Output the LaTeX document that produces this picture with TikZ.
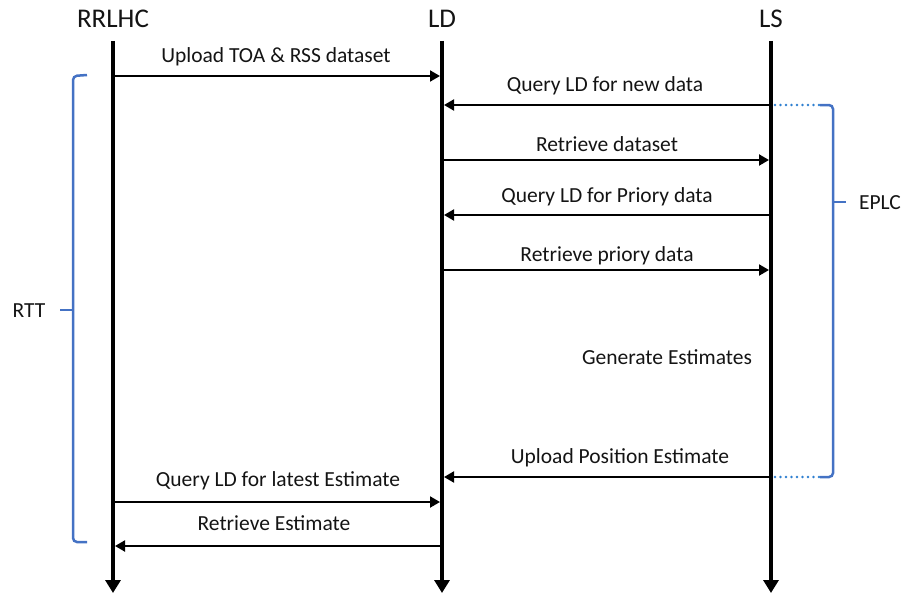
\documentclass[tikz,border=0pt]{standalone}
\usepackage{fontspec}
\setmainfont{Carlito}
\usetikzlibrary{arrows.meta}
\definecolor{braceblue}{HTML}{4472C4}
\definecolor{dotblue}{HTML}{2E7FD0}
\definecolor{txt}{HTML}{141414}
\begin{document}
\begin{tikzpicture}[x=1pt,y=-1pt,
  life/.style={line width=4pt,-{Triangle[width=15pt,length=13pt]}},
  msg/.style={line width=2pt,shorten >=2pt,-{Triangle[width=11pt,length=10pt]}},
  lbl/.style={font=\fontsize{21.5}{25}\selectfont, text=txt, inner sep=0pt, anchor=base},
  head/.style={font=\fontsize{27}{31}\selectfont, text=txt, inner sep=0pt, anchor=base},
  bracket/.style={draw=braceblue, line width=2.5pt, rounded corners=4pt},
  dotline/.style={draw=dotblue, line width=2.6pt, line cap=round, dash pattern=on 0pt off 5.5pt}]
\useasboundingbox (0,0) rectangle (909,594);

% headers
\node[head] (hA) at (113,28) {RRLHC};
\node[head] (hB) at (442,28) {LD};
\node[head] (hC) at (771,28) {LS};

% lifelines
\coordinate (aT) at (113,41); \coordinate (aB) at (113,593);
\coordinate (bT) at (442,41); \coordinate (bB) at (442,593);
\coordinate (cT) at (771,41); \coordinate (cB) at (771,593);
\draw[life] (aT) -- (aB);
\draw[life] (bT) -- (bB);
\draw[life] (cT) -- (cB);

% message rows
\coordinate (m1) at (0,76);
\coordinate (m2) at (0,105);
\coordinate (m3) at (0,160);
\coordinate (m4) at (0,215);
\coordinate (m5) at (0,270);
\coordinate (m7) at (0,477);
\coordinate (m8) at (0,502);
\coordinate (m9) at (0,546);

\draw[msg] (aT |- m1) -- (bT |- m1);
\draw[msg] (cT |- m2) -- (bT |- m2);
\draw[msg] (bT |- m3) -- (cT |- m3);
\draw[msg] (cT |- m4) -- (bT |- m4);
\draw[msg] (bT |- m5) -- (cT |- m5);
\draw[msg] (cT |- m7) -- (bT |- m7);
\draw[msg] (aT |- m8) -- (bT |- m8);
\draw[msg] (bT |- m9) -- (aT |- m9);

% labels
\node[lbl] (l1) at (276,63) {Upload TOA \& RSS dataset};
\node[lbl] (l2) at (605,91) {Query LD for new data};
\node[lbl] (l3) at (607,151) {Retrieve dataset};
\node[lbl] (l4) at (607,202) {Query LD for Priory data};
\node[lbl] (l5) at (607,261) {Retrieve priory data};
\node[lbl] (l6) at (667,364) {Generate Estimates};
\node[lbl] (l7) at (620,463) {Upload Position Estimate};
\node[lbl] (l8) at (278,486) {Query LD for latest Estimate};
\node[lbl] (l9) at (274,530) {Retrieve Estimate};

% RTT bracket
\coordinate (r1) at (87,75);
\coordinate (r2) at (73,76);
\coordinate (r3) at (73,542);
\coordinate (r4) at (87,542);
\coordinate (rm) at (73,310);
\coordinate (rt) at (60,310);
\draw[bracket] (r1) -- (r2) -- (r3) -- (r4);
\draw[bracket] (rm) -- (rt);
\node[lbl] (rtt) at (29,317) {RTT};

% EPLC bracket
\coordinate (e0) at (820,105);
\coordinate (e1) at (833,105);
\coordinate (e2) at (833,477);
\coordinate (e3) at (820,477);
\coordinate (em) at (833,202);
\coordinate (et) at (846,202);
\draw[dotline] (cT |- e0) ++(4,0) -- (e0);
\draw[dotline] (cT |- e3) ++(4,0) -- (e3);
\draw[bracket] (e0) -- (e1) -- (e2) -- (e3);
\draw[bracket] (em) -- (et);
\node[lbl] (eplc) at (880,209) {EPLC};
\end{tikzpicture}
\end{document}
